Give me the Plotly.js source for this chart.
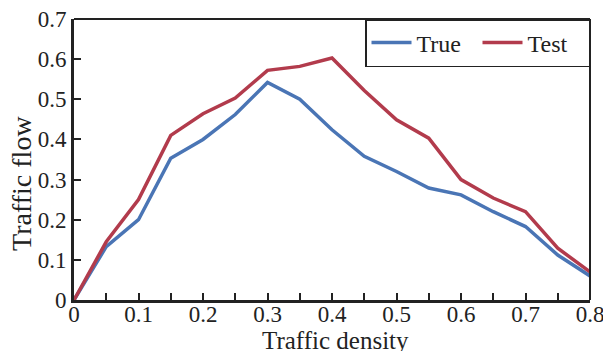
<!DOCTYPE html>
<html>
<head>
<meta charset="utf-8">
<script src="https://cdn.plot.ly/plotly-3.0.1.min.js"></script>
<style>html,body{margin:0;padding:0;background:#fff;}#chart{width:603px;height:351px;}</style>
</head>
<body>
<div id="chart"></div>
<script>
const density = [0, 0.05, 0.1, 0.15, 0.2, 0.25, 0.3, 0.35, 0.4, 0.45, 0.5, 0.55, 0.6, 0.65, 0.7, 0.75, 0.8];
const trueFlow = [0, 0.133, 0.20, 0.353, 0.40, 0.462, 0.542, 0.50, 0.424, 0.358, 0.32, 0.279, 0.262, 0.22, 0.183, 0.112, 0.06];
const testFlow = [0, 0.145, 0.25, 0.41, 0.464, 0.503, 0.572, 0.582, 0.603, 0.522, 0.449, 0.403, 0.30, 0.254, 0.22, 0.129, 0.07];
const xTicks = [0, 0.1, 0.2, 0.3, 0.4, 0.5, 0.6, 0.7, 0.8];
const yTicks = [0, 0.1, 0.2, 0.3, 0.4, 0.5, 0.6, 0.7];

const font = 'Liberation Serif, Times New Roman, serif';
const traces = [
  {x: density, y: trueFlow, name: 'True', type: 'scatter', mode: 'lines',
   line: {color: '#4a75b5', width: 3.5}},
  {x: density, y: testFlow, name: 'Test', type: 'scatter', mode: 'lines',
   line: {color: '#b23b4c', width: 3.5}}
];
const layout = {
  width: 603, height: 351,
  margin: {l: 74, r: 13, t: 19, b: 51},
  paper_bgcolor: '#fff', plot_bgcolor: '#fff',
  font: {family: font, size: 23, color: '#222'},
  showlegend: true,
  legend: {orientation: 'h', x: 1, y: 1, xanchor: 'right', yanchor: 'top',
    bordercolor: '#222', borderwidth: 1.5, bgcolor: '#fff',
    entrywidth: 56, entrywidthmode: 'pixels', itemwidth: 40,
    font: {family: font, size: 24, color: '#222'}, tracegroupgap: 0},
  xaxis: {range: [0, 0.8], tickvals: xTicks, ticktext: xTicks.map(v => v === 0 ? '0' : v.toFixed(1)),
    ticks: 'inside', ticklen: 7, tickwidth: 2, tickcolor: '#222', ticklabeloverflow: 'allow',
    ticklabelstandoff: -9,
    minor: {dtick: 0.05, ticks: 'inside', ticklen: 7, tickwidth: 2, tickcolor: '#222', showgrid: false},
    showline: true, linewidth: 3, linecolor: '#222', showgrid: false, zeroline: false,
    tickfont: {family: font, size: 23, color: '#222'}},
  yaxis: {range: [0, 0.7], tickvals: yTicks, ticktext: yTicks.map(v => v === 0 ? '0' : v.toFixed(1)),
    ticks: 'inside', ticklen: 7, tickwidth: 2, tickcolor: '#222',
    showline: true, linewidth: 3, linecolor: '#222', showgrid: false, zeroline: false,
    tickfont: {family: font, size: 23, color: '#222'}},
  annotations: [
    {text: 'Traffic density', xref: 'paper', yref: 'paper', x: 0.506, y: 0, yshift: -40,
     xanchor: 'center', yanchor: 'middle', showarrow: false,
     font: {family: font, size: 25, color: '#222'}},
    {text: 'Traffic flow', xref: 'paper', yref: 'paper', x: 0, xshift: -52, y: 0.413,
     xanchor: 'center', yanchor: 'middle', textangle: -90, showarrow: false,
     font: {family: font, size: 28, color: '#222'}}
  ],
  shapes: [
    {type: 'line', xref: 'paper', yref: 'paper', x0: 0, x1: 1, y0: 1, y1: 1, line: {color: '#222', width: 2}},
    {type: 'line', xref: 'paper', yref: 'paper', x0: 1, x1: 1, y0: 0, y1: 1, line: {color: '#222', width: 2}}
  ]
};
Plotly.newPlot('chart', traces, layout, {displayModeBar: false, staticPlot: true});
</script>
</body>
</html>
